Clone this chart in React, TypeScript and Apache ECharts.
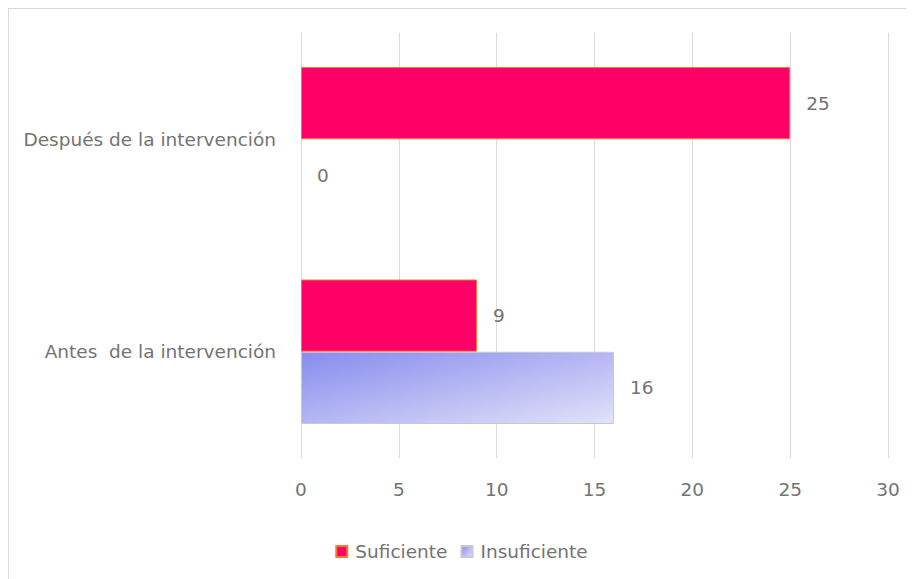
import React, { useEffect, useRef } from "react";
import * as echarts from "echarts";

const categories = ["Después de la intervención", "Antes  de la intervención"];
const suficiente = [25, 9];
const insuficiente = [0, 16];
const seriesNames = ["Suficiente", "Insuficiente"];
const xTicks = { min: 0, max: 30, interval: 5 };

const FONT = "'DejaVu Sans', 'Open Sans', sans-serif";
const TEXT = "#737373";
const FS = 18.5;

export default function App() {
  const ref = useRef<HTMLDivElement>(null);
  useEffect(() => {
    if (!ref.current) return;
    const chart = echarts.init(ref.current, null, { renderer: "svg" });
    const labelStyle = {
      show: true,
      position: "right" as const,
      distance: 16,
      color: TEXT,
      fontSize: FS,
      fontFamily: FONT,
    };
    const noBorderAtZero = (arr: number[]) =>
      arr.map((v) => (v === 0 ? { value: v, itemStyle: { borderWidth: 0 } } : v));
    chart.setOption({
      animation: false,
      backgroundColor: "#ffffff",
      textStyle: { fontFamily: FONT },
      grid: { left: 292, top: 24, width: 587, height: 425, containLabel: false },
      legend: {
        data: seriesNames,
        bottom: 13,
        left: "center",
        itemWidth: 11,
        itemHeight: 11,
        itemGap: 13,
        icon: "rect",
        textStyle: { color: TEXT, fontSize: FS, fontFamily: FONT, padding: [0, 0, 0, 3] },
      },
      xAxis: {
        type: "value",
        min: xTicks.min,
        max: xTicks.max,
        interval: xTicks.interval,
        axisLine: { show: false },
        axisTick: { show: false },
        splitLine: { show: true, lineStyle: { color: "#d9d9d9", width: 1 } },
        axisLabel: { color: TEXT, fontSize: FS, fontFamily: FONT, margin: 22 },
      },
      yAxis: {
        type: "category",
        data: categories,
        inverse: true,
        axisLine: { show: false },
        axisTick: { show: false },
        axisLabel: { color: TEXT, fontSize: FS, fontFamily: FONT, margin: 25 },
      },
      series: [
        {
          name: seriesNames[0],
          type: "bar",
          data: noBorderAtZero(suficiente),
          barGap: "0%",
          barCategoryGap: "32%",
          itemStyle: { color: "#ff0066", borderColor: "#ed7d31", borderWidth: 1 },
          label: labelStyle,
        },
        {
          name: seriesNames[1],
          type: "bar",
          data: noBorderAtZero(insuficiente),
          barGap: "0%",
          barCategoryGap: "32%",
          itemStyle: {
            color: new echarts.graphic.LinearGradient(0, 0, 1, 1, [
              { offset: 0, color: "#878cee" },
              { offset: 1, color: "#e2e2f9" },
            ]),
            borderColor: "#c8c8d0",
            borderWidth: 1,
          },
          label: labelStyle,
        },
      ],
    });
    return () => chart.dispose();
  }, []);
  return (
    <div
      style={{
        width: 906,
        height: 571,
        boxSizing: "border-box",
        borderTop: "1px solid #d9d9d9",
        borderLeft: "1px solid #d9d9d9",
        overflow: "hidden",
      }}
    >
      <div ref={ref} style={{ width: 905, height: 570 }} />
    </div>
  );
}
